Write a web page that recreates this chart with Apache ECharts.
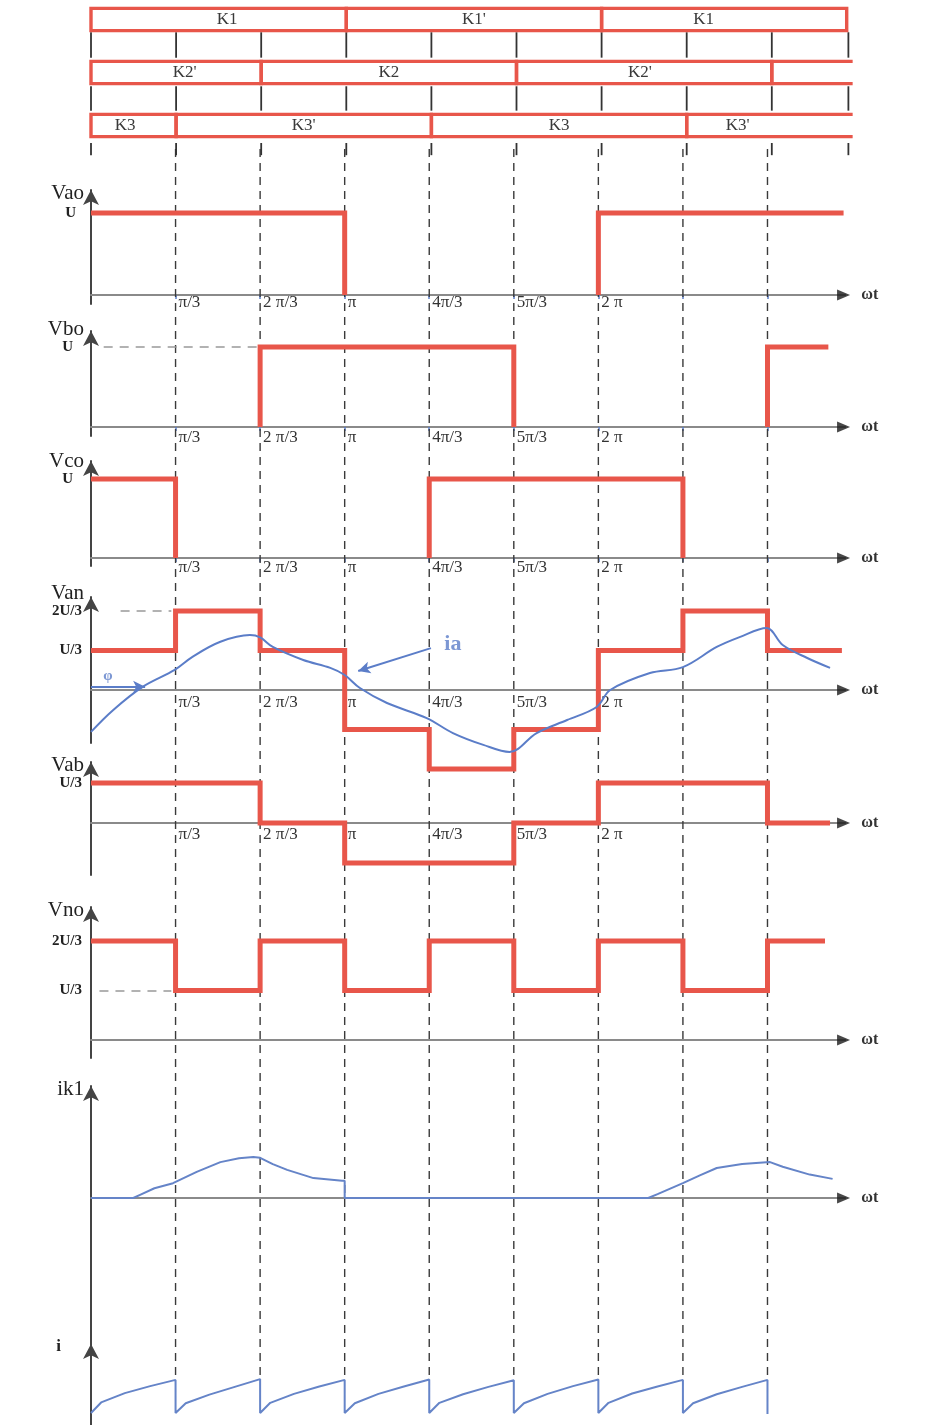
<!DOCTYPE html>
<html>
<head>
<meta charset="utf-8">
<script src="https://cdn.jsdelivr.net/npm/echarts@6/dist/echarts.min.js"></script>
<style>
html,body{margin:0;padding:0;background:#fff}
#c{width:944px;height:1425px}
</style>
</head>
<body>
<div id="c"></div>
<script>
// x values are measured in steps of π/3
const tickValues = [1, 2, 3, 4, 5, 6];
const tickLabels = ['π/3', '2 π/3', 'π', '4π/3', '5π/3', '2 π'];
const guideLines = [1, 2, 3, 4, 5, 6, 7, 8];

// switch conduction table
const swStart  = [0, 3, 6, 0, 2, 5, 8, 0, 1, 4, 7];
const swEnd    = [3, 6, 8.88, 2, 5, 8, 8.95, 1, 4, 7, 8.95];
const swRow    = [0, 0, 0, 1, 1, 1, 1, 2, 2, 2, 2];
const swName   = ['K1', "K1'", 'K1', "K2'", 'K2', "K2'", '', 'K3', "K3'", 'K3', "K3'"];
const swLabelX = [1.6, 4.5, 7.2, 1.1, 3.5, 6.45, 8.5, 0.4, 2.5, 5.5, 7.6];
const swClosed = [1, 1, 1, 1, 1, 1, 0, 1, 1, 1, 0];
const swTicks  = [0, 1, 2, 3, 4, 5, 6, 7, 8, 8.9];

// phase-to-midpoint voltages (units of U)
const vaoEdges = [0, 3, 6, 8.9];          const vaoLevels = [1, 0, 1];
const vboEdges = [0, 2, 5, 8, 8.72];      const vboLevels = [0, 1, 0, 1];
const vcoEdges = [0, 1, 4, 7, 8.9];       const vcoLevels = [1, 0, 1, 0];
// phase-to-neutral, line and neutral voltages (units of U/3)
const vanEdges = [0, 1, 2, 3, 4, 5, 6, 7, 8, 8.88]; const vanLevels = [1, 2, 1, -1, -2, -1, 1, 2, 1];
const vabEdges = [0, 2, 3, 5, 6, 8, 8.74];           const vabLevels = [1, 0, -1, 0, 1, 0];
const vnoEdges = [0, 1, 2, 3, 4, 5, 6, 7, 8, 8.68]; const vnoLevels = [2, 1, 2, 1, 2, 1, 2, 1, 2];

// load current ia
const iaX = [0, 0.26, 0.61, 0.99, 1.2, 1.53, 1.88, 2.0, 2.15, 2.51, 2.83, 3.0, 3.18, 3.5, 3.97, 4.28, 4.64, 4.95, 5.27, 5.63, 5.98, 6.14, 6.61, 7.0, 7.4, 7.67, 7.99, 8.18, 8.47, 8.74];
const iaY = [-1.06, -0.51, 0.08, 0.51, 0.84, 1.22, 1.39, 1.33, 1.09, 0.76, 0.56, 0.38, 0.05, -0.33, -0.71, -1.09, -1.39, -1.57, -1.09, -0.76, -0.43, 0.0, 0.43, 0.58, 1.09, 1.34, 1.57, 1.14, 0.81, 0.56];

// switch K1 current
const ik1X = [0, 0.5, 0.58, 0.75, 0.97, 1.25, 1.53, 1.75, 1.92, 2.0, 2.15, 2.32, 2.63, 2.97, 3.0, 3.0, 6.59, 6.7, 6.85, 7.0, 7.2, 7.4, 7.7, 8.03, 8.18, 8.5, 8.77];
const ik1Y = [0, 0, 0.08, 0.25, 0.38, 0.67, 0.92, 1.02, 1.05, 1.03, 0.87, 0.72, 0.51, 0.44, 0.44, 0, 0, 0.1, 0.24, 0.38, 0.58, 0.77, 0.87, 0.92, 0.8, 0.6, 0.49];

// DC-link current
const iX = [0, 0.12, 0.4, 0.7, 1, 1, 1.12, 1.4, 1.7, 2, 2, 2.12, 2.4, 2.7, 3, 3, 3.12, 3.4, 3.7, 4, 4, 4.12, 4.4, 4.7, 5, 5, 5.12, 5.4, 5.7, 6, 6, 6.12, 6.4, 6.7, 7, 7, 7.12, 7.4, 7.7, 8, 8];
const iY = [0.31, 0.58, 0.82, 1.0, 1.16, 0.31, 0.56, 0.78, 0.98, 1.18, 0.31, 0.57, 0.8, 0.99, 1.16, 0.31, 0.56, 0.8, 0.99, 1.17, 0.31, 0.57, 0.79, 0.98, 1.15, 0.31, 0.56, 0.8, 1.0, 1.17, 0.31, 0.57, 0.81, 0.99, 1.16, 0.31, 0.56, 0.79, 0.98, 1.16, 0.28];

const SERIF = '"Liberation Serif", "DejaVu Serif", serif';
const RED = '#e8564a', BLUE = '#5b7dc8', BLUE2 = '#6584c8';
const AXIS = '#8a8a8a', YAXIS = '#444', DASH = '#3a3a3a';
const LEFT = 91, UNIT_X = 84.56, XMAX = 8.92, ARROW_X = 8.9;
const WIDTH = XMAX * UNIT_X;

function zip(xs, ys) { return xs.map((x, i) => [x, ys[i]]); }

// step waveform; zero-level stretches can be left undrawn
function stepPoints(edges, levels, hideZero) {
  const pts = [];
  let hidden = false;
  for (let i = 0; i < levels.length; i++) {
    const x0 = edges[i], x1 = edges[i + 1], v = levels[i];
    if (hideZero && v === 0) {
      if (pts.length) { pts.push([x0, 0]); pts.push([x0, '-']); }
      hidden = true;
      continue;
    }
    if (hidden) pts.push([x0, 0]);
    hidden = false;
    pts.push([x0, v]);
    pts.push([x1, v]);
  }
  return pts;
}

// labelMargin is measured from the bottom edge of each panel
const panels = [
  { name: 'Vao', top: 190, axis: 295, bottom: 304, unit: 82, yTicks: [1], yLabels: ['U'], yMargin: 15, xLabels: true, labelMargin: -10, blueTicks: true },
  { name: 'Vbo', top: 331, axis: 427, bottom: 436, unit: 80, yTicks: [1], yLabels: ['U'], yMargin: 18, xLabels: true, labelMargin: -7, blueTicks: true },
  { name: 'Vco', top: 461, axis: 558, bottom: 566, unit: 79, yTicks: [1], yLabels: ['U'], yMargin: 18, xLabels: true, labelMargin: -7, blueTicks: true },
  { name: 'Van', top: 597, axis: 690, bottom: 743, unit: 39.5, yTicks: [2, 1], yLabels: ['2U/3', 'U/3'], yMargin: 9, xLabels: true, labelMargin: -49 },
  { name: 'Vab', top: 762, axis: 823, bottom: 875, unit: 40, yTicks: [1], yLabels: ['U/3'], yMargin: 9, xLabels: true, labelMargin: -49 },
  { name: 'Vno', top: 907, axis: 1040, bottom: 1058, unit: 49.5, yTicks: [2, 1], yLabels: ['2U/3', 'U/3'], yMargin: 9 },
  { name: 'ik1', top: 1086, axis: 1198, bottom: 1425, unit: 39, yTicks: [], yLabels: [], yMargin: 9 },
  { name: 'i', top: 1344, axis: 1425, bottom: 1425, unit: 38.9, yTicks: [], yLabels: [], yMargin: 9, noX: true, bold: true, namePad: 30 }
];

const grids = [], xAxes = [], yAxes = [], series = [];

// grid 0: switch table
grids.push({ left: LEFT, top: 0, width: 9 * 85.1, height: 160 });
xAxes.push({ gridIndex: 0, type: 'value', min: 0, max: 9, show: false });
yAxes.push({ gridIndex: 0, type: 'value', min: -0.368, max: 2.651, inverse: true, show: false });

// grid 1: dashed guide lines through all traces
grids.push({ left: LEFT, top: 147, width: WIDTH, height: 1228 });
xAxes.push({ gridIndex: 1, type: 'value', min: 0, max: XMAX, show: false });
yAxes.push({ gridIndex: 1, type: 'value', min: 0, max: 1, show: false });

panels.forEach((p, k) => {
  const gi = k + 2;
  p.gi = gi;
  grids.push({ left: LEFT, top: p.top, width: WIDTH, height: p.bottom - p.top });
  xAxes.push({
    gridIndex: gi, type: 'value', min: 0, max: XMAX,
    axisLine: { show: !p.noX, onZero: true, lineStyle: { color: AXIS, width: 2 } },
    axisTick: p.blueTicks
      ? { show: true, customValues: guideLines, length: 4, lineStyle: { color: BLUE, width: 1.5 } }
      : { show: false },
    axisLabel: p.xLabels
      ? { show: true, customValues: tickValues, formatter: v => tickLabels[tickValues.indexOf(v)],
          align: 'left', margin: p.labelMargin, padding: [0, 0, 0, 3], fontFamily: SERIF, fontSize: 17, color: '#333' }
      : { show: false },
    splitLine: { show: false },
    name: p.noX ? '' : 'ωt', nameLocation: 'end', nameGap: 16,
    nameTextStyle: { fontFamily: SERIF, fontWeight: 'bold', fontSize: 16, color: '#333', align: 'left', verticalAlign: 'middle' }
  });
  yAxes.push({
    gridIndex: gi, type: 'value',
    min: -(p.bottom - p.axis) / p.unit, max: (p.axis - p.top) / p.unit,
    axisLine: { show: true, onZero: false, symbol: ['none', 'arrow'], symbolSize: [12, 15],
                lineStyle: { color: YAXIS, width: 2 } },
    axisTick: { show: false }, splitLine: { show: false },
    axisLabel: { show: p.yTicks.length > 0, customValues: p.yTicks,
                 formatter: v => p.yLabels[p.yTicks.indexOf(v)],
                 fontFamily: SERIF, fontWeight: 'bold', fontSize: 15, color: '#222', margin: p.yMargin },
    name: p.name, nameLocation: 'end', nameGap: -3,
    nameTextStyle: { fontFamily: SERIF, fontSize: p.bold ? 17 : 21, fontWeight: p.bold ? 'bold' : 'normal',
                     color: '#222', align: 'right', verticalAlign: 'middle', padding: [0, p.namePad || 7, 0, 0] }
  });
  // black arrowhead at the end of the ωt axis
  if (!p.noX) {
    series.push({
      type: 'scatter', xAxisIndex: gi, yAxisIndex: gi, silent: true, z: 6,
      symbol: 'triangle', symbolRotate: -90, symbolSize: [11, 13],
      itemStyle: { color: '#1a1a1a' }, data: [[ARROW_X, 0]]
    });
  }
});

// switch boxes
series.push({
  type: 'custom', xAxisIndex: 0, yAxisIndex: 0, silent: true, z: 5,
  data: swStart.map((s, i) => [s, swEnd[i], swRow[i], swClosed[i], swLabelX[i]]),
  renderItem: (params, api) => {
    const i = params.dataIndex;
    const x0 = api.value(0), x1 = api.value(1), r = api.value(2), closed = api.value(3);
    const a = api.coord([x0, r - 0.21]), b = api.coord([x1, r + 0.21]);
    const t = api.coord([api.value(4), r]);
    const children = [];
    if (closed) {
      children.push({ type: 'rect', shape: { x: a[0], y: a[1], width: b[0] - a[0], height: b[1] - a[1] },
                      style: { fill: 'none', stroke: RED, lineWidth: 3.4 } });
    } else {
      children.push({ type: 'polyline', shape: { points: [[b[0], a[1]], [a[0], a[1]], [a[0], b[1]], [b[0], b[1]]] },
                      style: { fill: 'none', stroke: RED, lineWidth: 3.4 } });
    }
    if (swName[i]) {
      children.push({ type: 'text', x: t[0], y: t[1],
                      style: { text: swName[i], fill: '#3a3a3a', font: '17px ' + SERIF, align: 'center', verticalAlign: 'middle' } });
    }
    return { type: 'group', children };
  }
});

// short separators between table rows
const bands = [[0.24, 0.72], [1.26, 1.72], [2.33, 2.56]];
series.push({
  type: 'custom', xAxisIndex: 0, yAxisIndex: 0, silent: true, z: 4,
  data: swTicks.flatMap(x => bands.map(b => [x, b[0], b[1]])),
  renderItem: (params, api) => {
    const p0 = api.coord([api.value(0), api.value(1)]), p1 = api.coord([api.value(0), api.value(2)]);
    return { type: 'line', shape: { x1: p0[0], y1: p0[1], x2: p1[0], y2: p1[1] },
             style: { stroke: '#333', lineWidth: 1.8 } };
  }
});

// dashed guide lines
series.push({
  type: 'custom', xAxisIndex: 1, yAxisIndex: 1, silent: true, z: 1,
  data: guideLines.map(x => [x, 0]),
  renderItem: (params, api) => {
    const p0 = api.coord([api.value(0), 0]), p1 = api.coord([api.value(0), 1]);
    return { type: 'line', shape: { x1: p0[0], y1: p0[1], x2: p1[0], y2: p1[1] },
             style: { stroke: DASH, lineWidth: 1.4, lineDash: [8, 6] } };
  }
});

function stepSeries(gi, edges, levels, hideZero, ref) {
  const s = {
    type: 'line', xAxisIndex: gi, yAxisIndex: gi, data: stepPoints(edges, levels, hideZero),
    showSymbol: false, connectNulls: false, clip: false, silent: true, z: 3,
    lineStyle: { color: RED, width: 5, join: 'miter', cap: 'butt' }
  };
  if (ref) {
    s.markLine = { silent: true, symbol: 'none', label: { show: false },
                   lineStyle: { color: '#999', type: [9, 7], width: 1.5 },
                   data: [[{ coord: ref[0] }, { coord: ref[1] }]] };
  }
  return s;
}

const G = name => panels.find(p => p.name === name).gi;

series.push(stepSeries(G('Vao'), vaoEdges, vaoLevels, true));
series.push(stepSeries(G('Vbo'), vboEdges, vboLevels, true, [[0.15, 1], [2, 1]]));
series.push(stepSeries(G('Vco'), vcoEdges, vcoLevels, true));
series.push(stepSeries(G('Van'), vanEdges, vanLevels, false, [[0.35, 2], [0.95, 2]]));
series.push(stepSeries(G('Vab'), vabEdges, vabLevels, false));
series.push(stepSeries(G('Vno'), vnoEdges, vnoLevels, false, [[0.1, 1], [0.95, 1]]));

// ia with the φ and ia pointers
series.push({
  type: 'line', xAxisIndex: G('Van'), yAxisIndex: G('Van'), data: zip(iaX, iaY),
  smooth: 0.35, showSymbol: false, clip: false, silent: true, z: 4,
  lineStyle: { color: BLUE, width: 2 },
  markLine: {
    silent: true, symbol: ['none', 'arrow'], symbolSize: [9, 12], label: { show: false },
    lineStyle: { color: BLUE, width: 2, type: 'solid' },
    data: [
      [{ coord: [0, 0.08] }, { coord: [0.64, 0.08] }],
      [{ coord: [4.02, 1.06] }, { coord: [3.16, 0.48] }]
    ]
  }
});
series.push({
  type: 'scatter', xAxisIndex: G('Van'), yAxisIndex: G('Van'), symbolSize: 0, silent: true, z: 5,
  data: [
    { value: [4.28, 1.15], label: { formatter: 'ia', fontSize: 22, fontWeight: 'bold' } },
    { value: [0.2, 0.36], label: { formatter: 'φ', fontSize: 15, fontWeight: 'bold' } }
  ],
  label: { show: true, position: 'inside', color: BLUE, fontFamily: SERIF }
});

series.push({
  type: 'line', xAxisIndex: G('ik1'), yAxisIndex: G('ik1'), data: zip(ik1X, ik1Y),
  showSymbol: false, clip: false, silent: true, z: 4, lineStyle: { color: BLUE2, width: 2 }
});
series.push({
  type: 'line', xAxisIndex: G('i'), yAxisIndex: G('i'), data: zip(iX, iY),
  showSymbol: false, clip: false, silent: true, z: 4, lineStyle: { color: BLUE2, width: 2 }
});

const chart = echarts.init(document.getElementById('c'));
chart.setOption({
  animation: false,
  backgroundColor: '#fff',
  grid: grids, xAxis: xAxes, yAxis: yAxes, series
});
</script>
</body>
</html>
